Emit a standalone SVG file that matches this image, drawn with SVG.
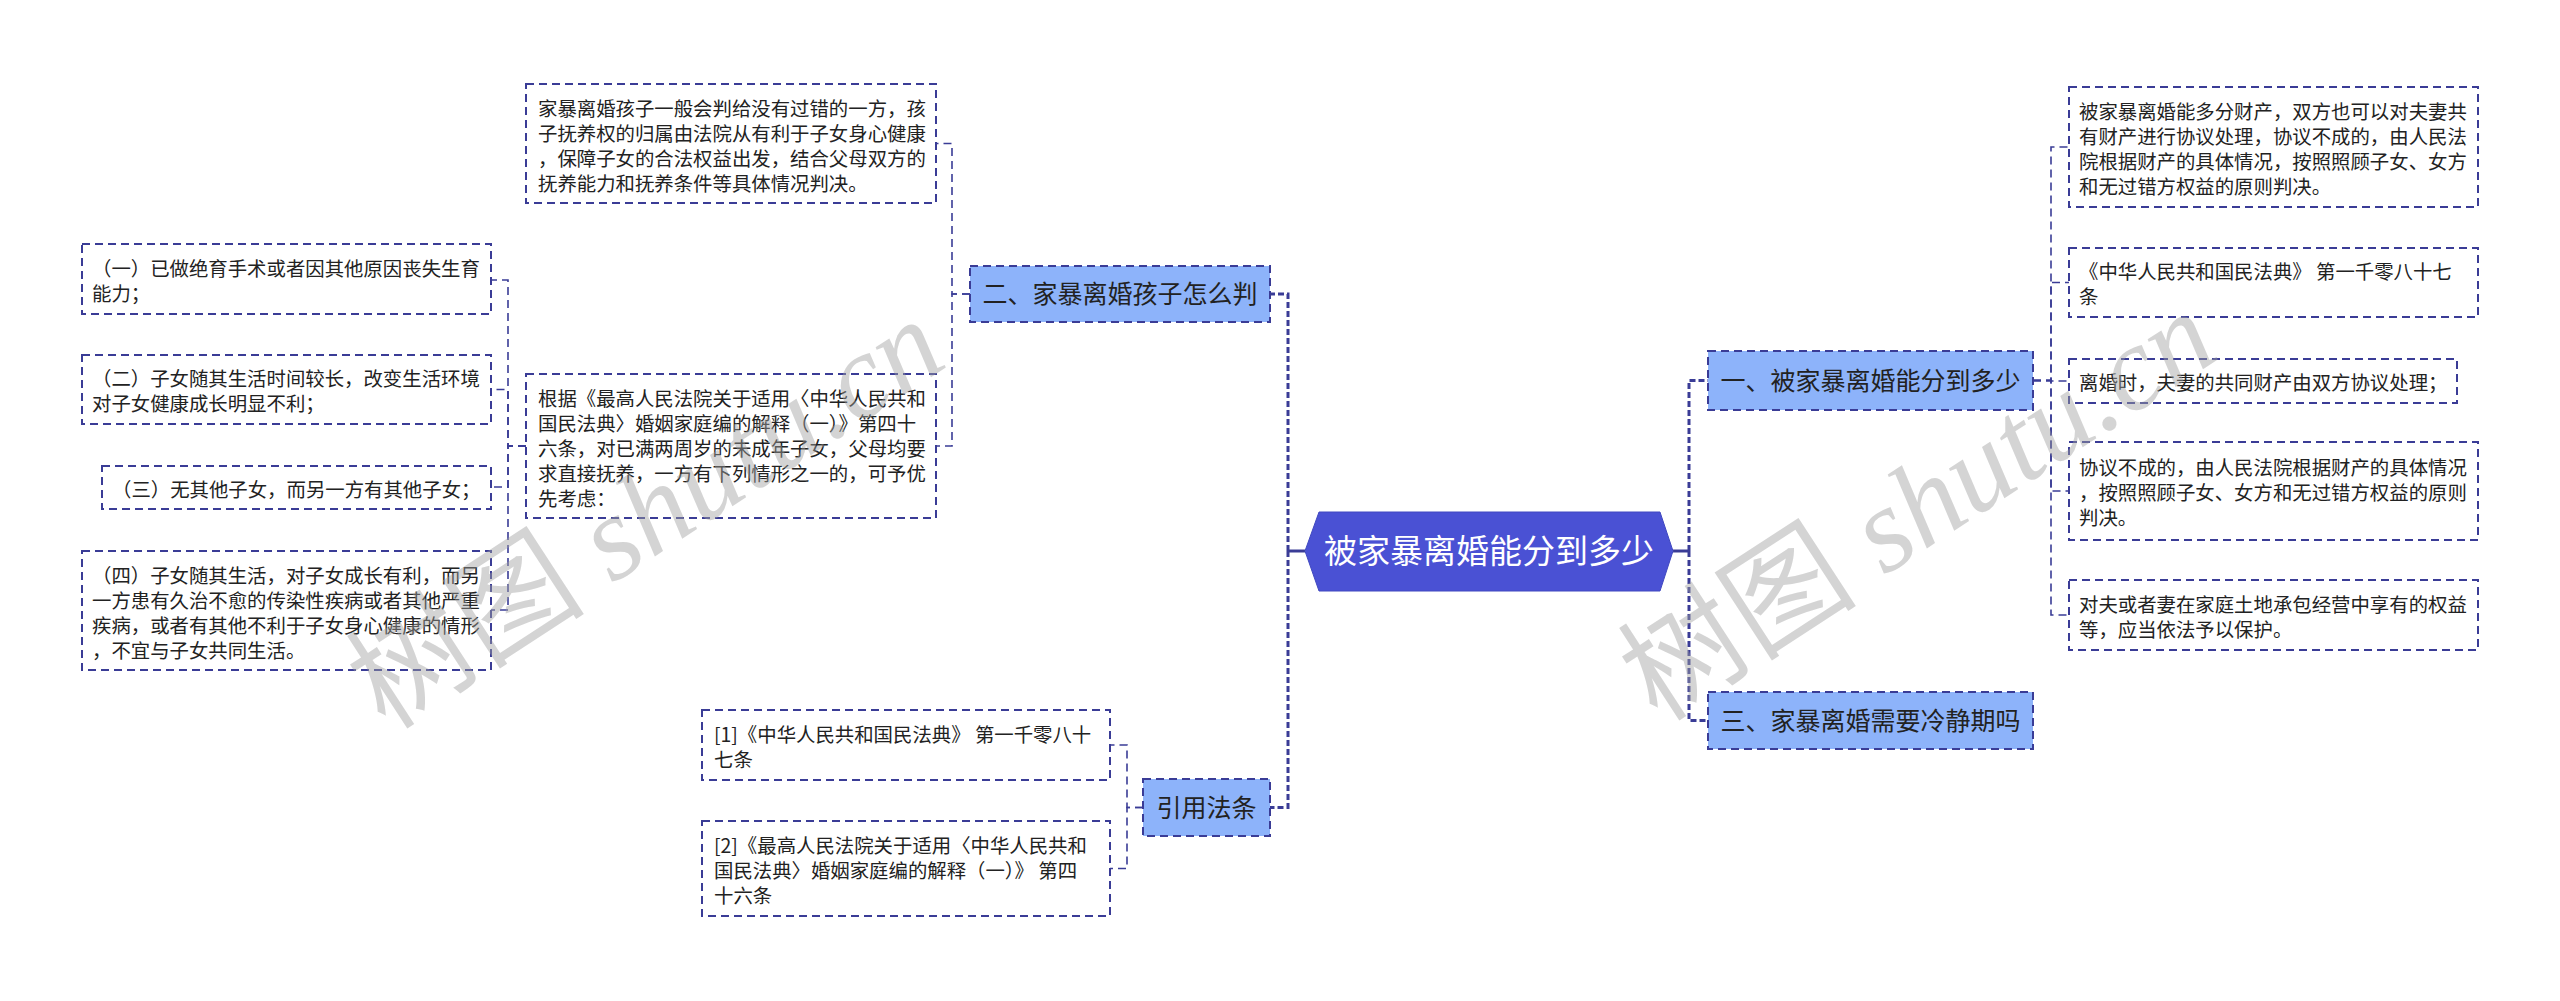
<svg xmlns="http://www.w3.org/2000/svg" width="2560" height="1001" viewBox="0 0 2560 1001">
<style>
.bg{fill:#ffffff}
.box{fill:#ffffff;stroke:#3a3c96;stroke-width:2;stroke-dasharray:8 5}
.l1{fill:#8db3fa;stroke:#3a3c96;stroke-width:2;stroke-dasharray:8 5}
.root{fill:#4a51d4;stroke:#4048c0;stroke-width:1}
.t{font-family:"Noto Sans CJK SC","Liberation Sans",sans-serif;font-size:19.4px;fill:#222222}
.t1{font-family:"Noto Sans CJK SC","Liberation Sans",sans-serif;font-size:25px;fill:#222222;text-anchor:middle}
.tr{font-family:"Noto Sans CJK SC","Liberation Sans",sans-serif;font-size:33px;fill:#ffffff;text-anchor:middle}
.main{fill:none;stroke:#3a3c96;stroke-width:3;stroke-dasharray:6 3}
.solid{fill:none;stroke:#3a3c96;stroke-width:3}
.sub{fill:none;stroke:#3a3c96;stroke-width:1.6;stroke-dasharray:8 5}
.wm{font-family:"Liberation Serif","Noto Sans CJK SC",serif;font-size:120px;fill:#a0a0a0;fill-opacity:0.45;text-anchor:middle}
</style>
<rect class="bg" x="0" y="0" width="2560" height="1001"/>

<g id="connectors">
  <path class="solid" d="M1305,551 H1288"/>
  <path class="main" d="M1288,551 V294 H1270"/>
  <path class="main" d="M1288,551 V807.5 H1270"/>
  <path class="solid" d="M1673,551 H1689"/>
  <path class="main" d="M1689,551 V380.5 H1708"/>
  <path class="main" d="M1689,551 V720.5 H1708"/>
  <path class="sub" d="M970,294 H952 V143.5 H936"/>
  <path class="sub" d="M970,294 H952 V446 H936"/>
  <path class="sub" d="M526,446 H508 V280 H491"/>
  <path class="sub" d="M526,446 H508 V389.5 H491"/>
  <path class="sub" d="M526,446 H508 V487 H491"/>
  <path class="sub" d="M526,446 H508 V610 H491"/>
  <path class="sub" d="M1143,807.5 H1127 V745 H1110"/>
  <path class="sub" d="M1143,807.5 H1127 V868.5 H1110"/>
  <path class="sub" d="M2033,380.5 H2051 V147 H2069"/>
  <path class="sub" d="M2033,380.5 H2051 V282.5 H2069"/>
  <path class="sub" d="M2033,380.5 H2051 V381 H2069"/>
  <path class="sub" d="M2033,380.5 H2051 V491 H2069"/>
  <path class="sub" d="M2033,380.5 H2051 V615 H2069"/>
</g>

<g id="root">
  <polygon class="root" points="1305,551 1319,512 1660,512 1673,551 1660,591 1319,591"/>
  <text class="tr" x="1489" y="563">被家暴离婚能分到多少</text>
</g>

<g id="n-er">
  <rect class="l1" x="970" y="266" width="300" height="56"/>
  <text class="t1" x="1120" y="303">二、家暴离婚孩子怎么判</text>
</g>
<g id="n-yinyong">
  <rect class="l1" x="1143" y="779" width="127" height="57"/>
  <text class="t1" x="1206.5" y="816.5">引用法条</text>
</g>
<g id="n-yi">
  <rect class="l1" x="1708" y="351" width="325" height="59"/>
  <text class="t1" x="1870.5" y="389.5">一、被家暴离婚能分到多少</text>
</g>
<g id="n-san">
  <rect class="l1" x="1708" y="692" width="325" height="57"/>
  <text class="t1" x="1870.5" y="729.5">三、家暴离婚需要冷静期吗</text>
</g>

<g id="c-er-1">
  <rect class="box" x="526" y="84" width="410" height="119"/>
  <text class="t" x="538" y="116">家暴离婚孩子一般会判给没有过错的一方，孩</text>
  <text class="t" x="538" y="141">子抚养权的归属由法院从有利于子女身心健康</text>
  <text class="t" x="538" y="166">，保障子女的合法权益出发，结合父母双方的</text>
  <text class="t" x="538" y="191">抚养能力和抚养条件等具体情况判决。</text>
</g>
<g id="c-er-2">
  <rect class="box" x="526" y="374" width="410" height="144"/>
  <text class="t" x="538" y="406">根据《最高人民法院关于适用〈中华人民共和</text>
  <text class="t" x="538" y="431">国民法典〉婚姻家庭编的解释（一）》第四十</text>
  <text class="t" x="538" y="456">六条，对已满两周岁的未成年子女，父母均要</text>
  <text class="t" x="538" y="481">求直接抚养，一方有下列情形之一的，可予优</text>
  <text class="t" x="538" y="506">先考虑：</text>
</g>
<g id="c-a1">
  <rect class="box" x="82" y="244" width="409" height="70"/>
  <text class="t" x="92" y="276">（一）已做绝育手术或者因其他原因丧失生育</text>
  <text class="t" x="92" y="301">能力；</text>
</g>
<g id="c-a2">
  <rect class="box" x="82" y="355" width="409" height="69"/>
  <text class="t" x="92" y="386">（二）子女随其生活时间较长，改变生活环境</text>
  <text class="t" x="92" y="411">对子女健康成长明显不利；</text>
</g>
<g id="c-a3">
  <rect class="box" x="102" y="466" width="389" height="43"/>
  <text class="t" x="112" y="497">（三）无其他子女，而另一方有其他子女；</text>
</g>
<g id="c-a4">
  <rect class="box" x="82" y="551" width="409" height="119"/>
  <text class="t" x="92" y="583">（四）子女随其生活，对子女成长有利，而另</text>
  <text class="t" x="92" y="608">一方患有久治不愈的传染性疾病或者其他严重</text>
  <text class="t" x="92" y="633">疾病，或者有其他不利于子女身心健康的情形</text>
  <text class="t" x="92" y="658">，不宜与子女共同生活。</text>
</g>
<g id="c-ref1">
  <rect class="box" x="702" y="710" width="408" height="70"/>
  <text class="t" x="714" y="742">[1]《中华人民共和国民法典》 第一千零八十</text>
  <text class="t" x="714" y="767">七条</text>
</g>
<g id="c-ref2">
  <rect class="box" x="702" y="821" width="408" height="95"/>
  <text class="t" x="714" y="853">[2]《最高人民法院关于适用〈中华人民共和</text>
  <text class="t" x="714" y="878">国民法典〉婚姻家庭编的解释（一）》 第四</text>
  <text class="t" x="714" y="903">十六条</text>
</g>
<g id="c-yi-1">
  <rect class="box" x="2069" y="87" width="409" height="120"/>
  <text class="t" x="2079" y="119">被家暴离婚能多分财产，双方也可以对夫妻共</text>
  <text class="t" x="2079" y="144">有财产进行协议处理，协议不成的，由人民法</text>
  <text class="t" x="2079" y="169">院根据财产的具体情况，按照照顾子女、女方</text>
  <text class="t" x="2079" y="194">和无过错方权益的原则判决。</text>
</g>
<g id="c-yi-2">
  <rect class="box" x="2069" y="248" width="409" height="69"/>
  <text class="t" x="2079" y="279">《中华人民共和国民法典》 第一千零八十七</text>
  <text class="t" x="2079" y="304">条</text>
</g>
<g id="c-yi-3">
  <rect class="box" x="2069" y="359" width="388" height="44"/>
  <text class="t" x="2079" y="390">离婚时，夫妻的共同财产由双方协议处理；</text>
</g>
<g id="c-yi-4">
  <rect class="box" x="2069" y="442" width="409" height="98"/>
  <text class="t" x="2079" y="475">协议不成的，由人民法院根据财产的具体情况</text>
  <text class="t" x="2079" y="500">，按照照顾子女、女方和无过错方权益的原则</text>
  <text class="t" x="2079" y="525">判决。</text>
</g>
<g id="c-yi-5">
  <rect class="box" x="2069" y="580" width="409" height="70"/>
  <text class="t" x="2079" y="612">对夫或者妻在家庭土地承包经营中享有的权益</text>
  <text class="t" x="2079" y="637">等，应当依法予以保护。</text>
</g>

<g id="watermarks">
  <text class="wm" transform="translate(668,548) rotate(-33)">树图 <tspan font-style="italic">shutu.cn</tspan></text>
  <text class="wm" transform="translate(1940,540) rotate(-33)">树图 <tspan font-style="italic">shutu.cn</tspan></text>
</g>
</svg>
